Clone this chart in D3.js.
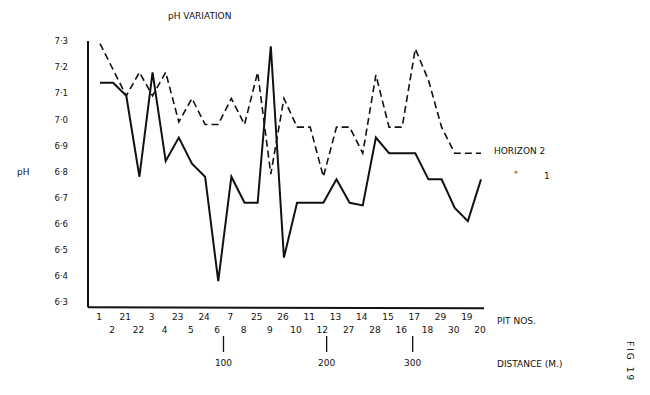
<!DOCTYPE html>
<html>
<head>
<meta charset="utf-8">
<script src="https://cdn.jsdelivr.net/npm/d3@7"></script>
<style>
  body { margin: 0; background: #fff; }
  svg text { font-family: "DejaVu Sans", "Liberation Sans", sans-serif; fill: #111; }
</style>
</head>
<body>
<svg id="chart" width="650" height="395"></svg>
<script>
// pit numbers in order along the traverse
const pits = [1, 2, 21, 22, 3, 4, 23, 5, 24, 6, 7, 8, 25, 9, 26, 10, 11, 12, 13, 27, 14, 28, 15, 16, 17, 18, 29, 30, 19, 20]

// horizon 1 (solid) and horizon 2 (dashed) pH
const horizon1 = [7.14, 7.14, 7.09, 6.78, 7.18, 6.84, 6.93, 6.83, 6.78, 6.38, 6.78, 6.68, 6.68, 7.28, 6.47,
                  6.68, 6.68, 6.68, 6.77, 6.68, 6.67, 6.93, 6.87, 6.87, 6.87, 6.77, 6.77, 6.66, 6.61, 6.77]
const horizon2 = [7.29, 7.19, 7.09, 7.18, 7.09, 7.18, 6.99, 7.08, 6.98, 6.98, 7.08, 6.98, 7.18, 6.79, 7.08,
                  6.97, 6.97, 6.78, 6.97, 6.97, 6.87, 7.17, 6.97, 6.97, 7.27, 7.15, 6.97, 6.87, 6.87, 6.87]

const yTicks = [6.3, 6.4, 6.5, 6.6, 6.7, 6.8, 6.9, 7.0, 7.1, 7.2, 7.3]

// distance marks (m) and where they fall along the pit sequence
const distances = [100, 200, 300]
const distanceAt = [9.4, 17.25, 23.8]

const svg = d3.select('#chart')

const x = d3.scaleLinear().domain([0, pits.length - 1]).range([100, 481])
const y = d3.scaleLinear().domain([6.3, 7.3]).range([302, 41])

const fmt = v => d3.format('.1f')(v).replace('.', '·')

// axes frame
svg.append('line')
    .attr('x1', 88).attr('x2', 88)
    .attr('y1', y(7.3)).attr('y2', y(6.28))
    .attr('stroke', '#111').attr('stroke-width', 2)

svg.append('line')
    .attr('x1', 88).attr('x2', x(pits.length - 1) + 3)
    .attr('y1', y(6.28)).attr('y2', y(6.28) + 1)
    .attr('stroke', '#111').attr('stroke-width', 2)

// y tick labels
const yAxis = svg.append('g')
    .attr('transform', 'translate(71,0)')
    .call(d3.axisLeft(y).tickValues(yTicks).tickSize(0).tickFormat(fmt))
yAxis.select('.domain').remove()
yAxis.selectAll('text')
    .attr('font-size', 8.5)
    .attr('font-family', '"DejaVu Sans Condensed", sans-serif')
    .attr('fill', '#111')

// pit labels, two staggered rows
svg.append('g').selectAll('text')
    .data(pits)
    .join('text')
    .attr('x', (d, i) => x(i) - 1)
    .attr('y', (d, i) => i % 2 === 0 ? 320 : 333)
    .attr('text-anchor', 'middle')
    .attr('font-size', 9)
    .attr('font-family', '"DejaVu Sans Condensed", sans-serif')
    .text(d => d)

// distance marks
const dist = svg.append('g')
distances.forEach((d, i) => {
    dist.append('line')
        .attr('x1', x(distanceAt[i])).attr('x2', x(distanceAt[i]))
        .attr('y1', 336).attr('y2', 352)
        .attr('stroke', '#111').attr('stroke-width', 1.3)
    dist.append('text')
        .attr('x', x(distanceAt[i]))
        .attr('y', 366)
        .attr('text-anchor', 'middle')
        .attr('font-size', 9)
        .text(d)
})

// lines
const line = d3.line()
    .x((d, i) => x(i))
    .y(d => y(d))

svg.append('path')
    .datum(horizon2)
    .attr('d', line)
    .attr('fill', 'none')
    .attr('stroke', '#111')
    .attr('stroke-width', 1.6)
    .attr('stroke-dasharray', '7,4')

svg.append('path')
    .datum(horizon1)
    .attr('d', line)
    .attr('fill', 'none')
    .attr('stroke', '#111')
    .attr('stroke-width', 2)
    .attr('stroke-linejoin', 'miter')

// titles and labels
svg.append('text').attr('x', 168).attr('y', 19).attr('font-size', 9).text('pH VARIATION')
svg.append('text').attr('x', 17).attr('y', 175).attr('font-size', 9).text('pH')
svg.append('text').attr('x', 494).attr('y', 154).attr('font-size', 9).text('HORIZON 2')
svg.append('text').attr('x', 514).attr('y', 178).attr('font-size', 8).text('"')
svg.append('text').attr('x', 544).attr('y', 179).attr('font-size', 9).text('1')
svg.append('text').attr('x', 497).attr('y', 324).attr('font-size', 9).text('PIT NOS.')
svg.append('text').attr('x', 497).attr('y', 367).attr('font-size', 9).text('DISTANCE (M.)')
svg.append('text')
    .attr('transform', 'translate(627,341) rotate(90)')
    .attr('font-size', 9)
    .attr('letter-spacing', 2)
    .text('FIG 19')
</script>
</body>
</html>
